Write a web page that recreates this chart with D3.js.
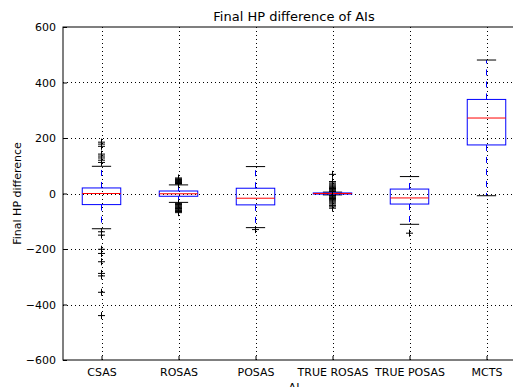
<!DOCTYPE html>
<html>
<head>
<meta charset="utf-8">
<script src="https://cdn.jsdelivr.net/npm/d3@7"></script>
<style>
  body { margin: 0; background: #fff; }
  svg { font-family: "DejaVu Sans", sans-serif; }
</style>
</head>
<body>
<div id="chart"></div>
<script>
// box statistics
const categories = ['CSAS', 'ROSAS', 'POSAS', 'TRUE ROSAS', 'TRUE POSAS', 'MCTS'];
const q1 = [-40, -10, -41, -2, -38, 175];
const medians = [0, -1, -17, 0, -16, 272];
const q3 = [20, 9, 19, 2, 16, 339];
const whiskerLow = [-127, -32, -123, -5, -111, -8];
const whiskerHigh = [98, 31, 97, 5, 61, 481];
const outliers = [
  [185, 178, 170, 142, 135, 128, 120, 112, -138, -150, -201, -216, -246, -288, -297, -356, -440],
  [34, 36, 38, 40, 42, 44, 46, 48, 50, 53, 56, -35, -37, -40, -42, -45, -48, -51, -54, -57, -61, -65, -69],
  [-130],
  [69, 43, 38, 34, 30, 26, 22, 18, 15, 12, 9, 7, -7, -9, -12, -15, -18, -22, -26, -30, -34, -38, -43, -48, -53],
  [-143],
  []
];
const yTicks = [-600, -400, -200, 0, 200, 400, 600];

const width = 513;
const height = 387;
const plotLeft = 63;
const plotTop = 27;
const plotBottom = 360;
const plotRight = 525;

const x = d3.scaleLinear().domain([0.5, 6.5]).range([plotLeft, plotRight]);
const y = d3.scaleLinear().domain([-600, 600]).range([plotBottom, plotTop]);
const unit = x(2) - x(1);

const svg = d3.select('#chart').append('svg')
  .attr('width', width)
  .attr('height', height);

svg.append('defs').append('clipPath').attr('id', 'plot-clip')
  .append('rect')
  .attr('x', plotLeft).attr('y', plotTop)
  .attr('width', plotRight - plotLeft).attr('height', plotBottom - plotTop);

// grid
const grid = svg.append('g');
grid.selectAll('line.gx')
  .data(d3.range(1, 7))
  .join('line')
  .attr('x1', (d) => Math.round(x(d)) + 0.5)
  .attr('x2', (d) => Math.round(x(d)) + 0.5)
  .attr('y1', plotTop).attr('y2', plotBottom)
  .attr('stroke', '#000')
  .attr('stroke-dasharray', '1 3');
grid.selectAll('line.gy')
  .data(yTicks.slice(1, -1))
  .join('line')
  .attr('x1', plotLeft).attr('x2', plotRight)
  .attr('y1', (d) => Math.round(y(d)) + 0.5)
  .attr('y2', (d) => Math.round(y(d)) + 0.5)
  .attr('stroke', '#000')
  .attr('stroke-dasharray', '1 3');

const plot = svg.append('g').attr('clip-path', 'url(#plot-clip)');

const boxes = plot.selectAll('g.box')
  .data(categories.map((c, i) => ({ c, i, pos: i + 1 })))
  .join('g');

// whiskers
boxes.append('line')
  .attr('x1', (d) => x(d.pos)).attr('x2', (d) => x(d.pos))
  .attr('y1', (d) => y(q3[d.i])).attr('y2', (d) => y(whiskerHigh[d.i]))
  .attr('stroke', '#0000ff').attr('stroke-dasharray', '6 6');
boxes.append('line')
  .attr('x1', (d) => x(d.pos)).attr('x2', (d) => x(d.pos))
  .attr('y1', (d) => y(q1[d.i])).attr('y2', (d) => y(whiskerLow[d.i]))
  .attr('stroke', '#0000ff').attr('stroke-dasharray', '6 6');

// caps
boxes.append('line')
  .attr('x1', (d) => x(d.pos) - unit / 8).attr('x2', (d) => x(d.pos) + unit / 8)
  .attr('y1', (d) => y(whiskerHigh[d.i])).attr('y2', (d) => y(whiskerHigh[d.i]))
  .attr('stroke', '#000');
boxes.append('line')
  .attr('x1', (d) => x(d.pos) - unit / 8).attr('x2', (d) => x(d.pos) + unit / 8)
  .attr('y1', (d) => y(whiskerLow[d.i])).attr('y2', (d) => y(whiskerLow[d.i]))
  .attr('stroke', '#000');

// box
boxes.append('rect')
  .attr('x', (d) => x(d.pos) - unit / 4)
  .attr('width', unit / 2)
  .attr('y', (d) => y(q3[d.i]))
  .attr('height', (d) => Math.max(1, y(q1[d.i]) - y(q3[d.i])))
  .attr('fill', 'none')
  .attr('stroke', '#0000ff');

// median
boxes.append('line')
  .attr('x1', (d) => x(d.pos) - unit / 4).attr('x2', (d) => x(d.pos) + unit / 4)
  .attr('y1', (d) => y(medians[d.i])).attr('y2', (d) => y(medians[d.i]))
  .attr('stroke', '#ff0000');

// fliers as '+'
const fliers = [];
outliers.forEach((list, i) => list.forEach((v) => fliers.push({ pos: i + 1, v })));
const plus = plot.selectAll('g.flier')
  .data(fliers)
  .join('g')
  .attr('transform', (d) => `translate(${x(d.pos)},${y(d.v)})`);
plus.append('line').attr('x1', -3.5).attr('x2', 3.5).attr('stroke', '#000');
plus.append('line').attr('y1', -3.5).attr('y2', 3.5).attr('stroke', '#000');

// frame
svg.append('rect')
  .attr('x', plotLeft).attr('y', plotTop)
  .attr('width', plotRight - plotLeft).attr('height', plotBottom - plotTop)
  .attr('fill', 'none')
  .attr('stroke', '#000');

// axes, classic inward ticks
const yAxis = svg.append('g')
  .attr('transform', `translate(${plotLeft},0)`)
  .call(d3.axisLeft(y).tickValues(yTicks).tickSize(-4).tickPadding(7)
    .tickFormat((d) => d3.format('')(d).replace('-', '\u2212')));
const xAxis = svg.append('g')
  .attr('transform', `translate(0,${plotBottom})`)
  .call(d3.axisBottom(x).tickValues(d3.range(1, 7)).tickSize(-4).tickPadding(8)
    .tickFormat((d) => categories[d - 1]));
[yAxis, xAxis].forEach((a) => {
  a.select('.domain').remove();
  a.selectAll('text').attr('font-size', 11).attr('fill', '#000')
    .attr('font-family', '"DejaVu Sans", sans-serif');
});

svg.append('text')
  .attr('x', (plotLeft + plotRight) / 2)
  .attr('y', 21)
  .attr('text-anchor', 'middle')
  .attr('font-size', 13)
  .text('Final HP difference of AIs');

svg.append('text')
  .attr('x', (plotLeft + plotRight) / 2)
  .attr('y', 391)
  .attr('text-anchor', 'middle')
  .attr('font-size', 11)
  .text('AI');

svg.append('text')
  .attr('transform', `translate(21,${(plotTop + plotBottom) / 2}) rotate(-90)`)
  .attr('text-anchor', 'middle')
  .attr('font-size', 11)
  .text('Final HP difference');
</script>
</body>
</html>
